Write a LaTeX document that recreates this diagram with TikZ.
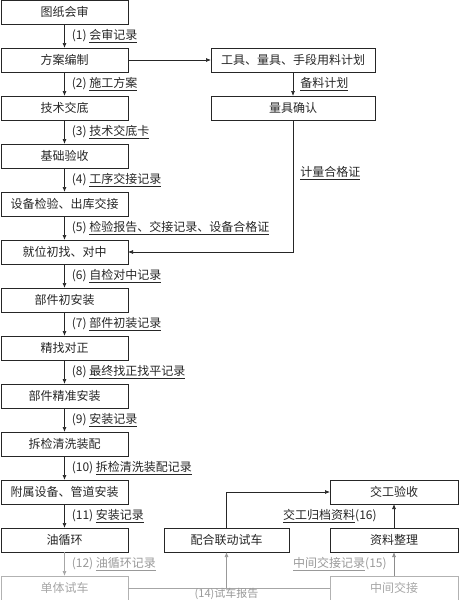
\documentclass[tikz,border=0pt]{standalone}
\usepackage{fontspec}
\setmainfont{Noto Sans CJK SC}
\usetikzlibrary{arrows.meta,positioning}

\begin{document}
\begin{tikzpicture}[x=1pt, y=-1pt, node distance=24pt and 83pt,
    box/.style={rectangle, draw=black!85, line width=0.8pt, minimum width=127pt, minimum height=24pt, inner sep=0pt, outer sep=0pt, text=black!85, font=\fontsize{12}{14}\selectfont},
    arrow/.style={-{Latex[length=5pt,width=4pt]}, line width=0.7pt, draw=black!85},
    lbl/.style={inner sep=1pt, text=black!85, font=\fontsize{12}{14}\selectfont},
    faded/.style={draw=black!30, text=black!35}]
    \useasboundingbox (0,0) rectangle (460,600);
    \node[box] (review) at (64.5,12) {图纸会审};
    \node[box, below=of review] (plan) {方案编制};
    \node[box, below=of plan] (brief) {技术交底};
    \node[box, below=of brief] (found) {基础验收};
    \node[box, below=of found] (check) {设备检验、出库交接};
    \node[box, below=of check] (place) {就位初找、对中};
    \node[box, below=of place] (preinst) {部件初安装};
    \node[box, below=of preinst] (align) {精找对正};
    \node[box, below=of align] (precise) {部件精准安装};
    \node[box, below=of precise] (clean) {拆检清洗装配};
    \node[box, below=of clean] (aux) {附属设备、管道安装};
    \node[box, below=of aux] (oil) {油循环};
    \node[box, faded, below=of oil] (single) {单体试车};
    \node[box, minimum width=164pt, right=of plan] (tools) {工具、量具、手段用料计划};
    \node[box, minimum width=164pt, below=of tools] (gauge) {量具确认};
    \node[box, minimum width=125pt, right=36pt of oil] (joint) {配合联动试车};
    \node[box, minimum width=128pt, right=41pt of joint] (docs) {资料整理};
    \node[box, minimum width=128pt, above=of docs] (accept) {交工验收};
    \node[box, faded, minimum width=128pt] (handover) at (docs |- single) {中间交接};
    \coordinate (split) at (joint |- single);

    \draw[arrow] (review) -- node[lbl, right=6pt] {(1)~\underline{会审记录}} (plan);
    \draw[arrow] (plan) -- node[lbl, right=6pt] {(2)~\underline{施工方案}} (brief);
    \draw[arrow] (brief) -- node[lbl, right=6pt] {(3)~\underline{技术交底卡}} (found);
    \draw[arrow] (found) -- node[lbl, right=6pt] {(4)~\underline{工序交接记录}} (check);
    \draw[arrow] (check) -- node[lbl, right=6pt] {(5)~\underline{检验报告、交接记录、设备合格证}} (place);
    \draw[arrow] (place) -- node[lbl, right=6pt] {(6)~\underline{自检对中记录}} (preinst);
    \draw[arrow] (preinst) -- node[lbl, right=6pt] {(7)~\underline{部件初装记录}} (align);
    \draw[arrow] (align) -- node[lbl, right=6pt] {(8)~\underline{最终找正找平记录}} (precise);
    \draw[arrow] (precise) -- node[lbl, right=6pt] {(9)~\underline{安装记录}} (clean);
    \draw[arrow] (clean) -- node[lbl, right=6pt] {(10)~\underline{拆检清洗装配记录}} (aux);
    \draw[arrow] (aux) -- node[lbl, right=6pt] {(11)~\underline{安装记录}} (oil);
    \draw[arrow, draw=black!35] (oil) -- node[lbl, right=6pt, text=black!40] {(12)~\underline{油循环记录}} (single);

    \draw[arrow] (plan) -- (tools);
    \draw[arrow] (tools) -- node[lbl, right=6pt] {\underline{备料计划}} (gauge);
    \draw[arrow] (gauge) |- node[lbl, pos=0.2, right=6pt] {\underline{计量合格证}} (place);

    \draw[line width=0.7pt, draw=black!35] (single) -- (handover);
    \draw[arrow, draw=black!40] (split) -- (joint);
    \node[lbl, below=0pt, inner sep=0pt, text=black!40, font=\fontsize{11}{12}\selectfont] at (split) {(14)试车报告};
    \draw[arrow] (joint) |- (accept);
    \draw[arrow] (docs) -- node[lbl, left=16pt] {\underline{交工归档资料}(16)} (accept);
    \draw[arrow, draw=black!45] (handover) -- node[lbl, left=6pt, text=black!40] {\underline{中间交接记录}(15)} (docs);
\end{tikzpicture}
\end{document}
